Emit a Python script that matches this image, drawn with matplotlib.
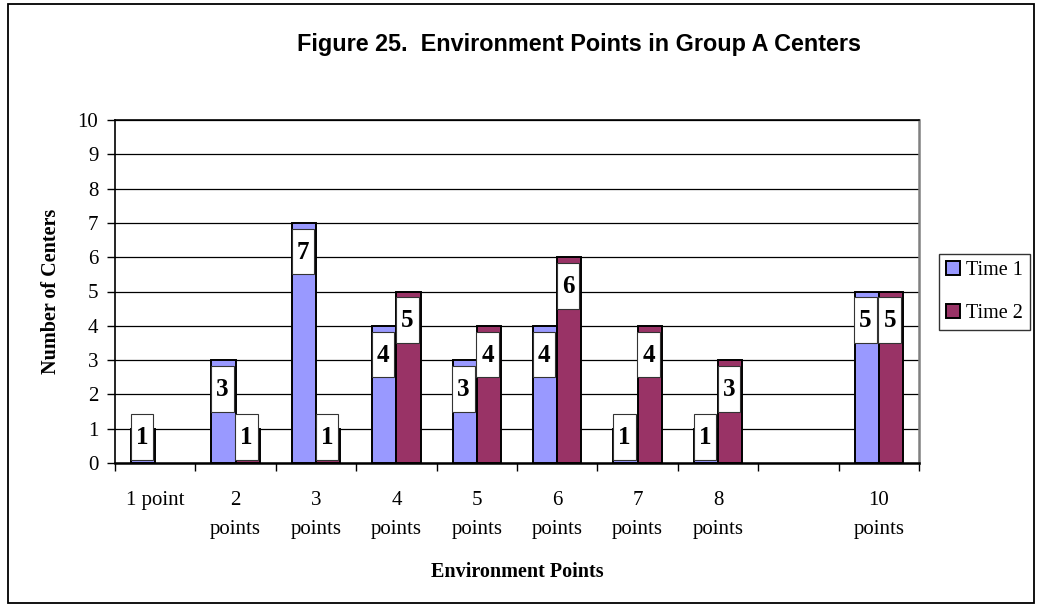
import numpy as np
import matplotlib
matplotlib.use("Agg")
import matplotlib.pyplot as plt
from matplotlib.patches import Rectangle

# number of centers per environment-point score, two observation rounds
categories = ["1 point", "2\npoints", "3\npoints", "4\npoints", "5\npoints",
              "6\npoints", "7\npoints", "8\npoints", "", "10\npoints"]
time1 = [1, 3, 7, 4, 3, 4, 1, 1, None, 5]
time2 = [None, 1, 1, 5, 4, 6, 4, 3, None, 5]
series_names = ["Time 1", "Time 2"]
series_colors = ["#9999FF", "#993366"]

serif = "Liberation Serif"
sans = "Liberation Sans"

fig = plt.figure(figsize=(10.37, 6.06), dpi=100)
ax = fig.add_axes([115 / 1037, 1 - 463 / 606, (919 - 115) / 1037, (463 - 120) / 606])

# outer chart border
fig.patches.append(Rectangle((8 / 1037, 3 / 606), 1026 / 1037, 599 / 606,
                             transform=fig.transFigure, fill=False,
                             edgecolor="black", linewidth=1.3))

width = 0.3
x = np.arange(len(categories))
handles = []
for k, (vals, name, color) in enumerate(zip([time1, time2], series_names, series_colors)):
    offset = (k - 0.5) * width
    idx = [i for i, v in enumerate(vals) if v is not None]
    heights = [vals[i] for i in idx]
    bars = ax.bar(x[idx] + offset, heights, width=width, color=color,
                  edgecolor="black", linewidth=1.4, zorder=3, label=name)
    handles.append(bars)
    # white value boxes sitting just under the top of each bar
    for i, v in zip(idx, heights):
        bottom = max(v - 1.5, 0.09)
        top = bottom + 1.33
        left = x[i] + offset - width / 2 - 0.004
        bw = 0.28
        ax.add_patch(Rectangle((left, bottom), bw, top - bottom,
                               facecolor="white", edgecolor="#333333",
                               linewidth=0.8, zorder=4))
        ax.text(left + bw / 2, (bottom + top) / 2 - 0.02, str(v), ha="center", va="center",
                fontsize=18, fontweight="bold", family=serif, zorder=5)

ax.set_xlim(-0.5, len(categories) - 0.5)
ax.set_ylim(0, 10)
ax.set_yticks(range(0, 11))
ax.yaxis.grid(True, color="black", linewidth=0.9, zorder=0)
ax.set_axisbelow(True)

# category boundaries carry the tick marks, labels sit at the centers
ax.set_xticks(np.arange(-0.5, len(categories), 1.0))
ax.set_xticklabels([])
ax.tick_params(axis="x", which="major", direction="out", length=6, width=1, color="black")
ax.set_xticks(x, minor=True)
ax.set_xticklabels(categories, minor=True, family=serif, fontsize=15, linespacing=1.75, va="top")
ax.tick_params(axis="x", which="minor", length=0, pad=20)
ax.tick_params(axis="y", direction="out", length=6, width=1, pad=6, labelsize=15)
for lbl in ax.get_yticklabels():
    lbl.set_family(serif)

for side in ["left", "bottom", "top"]:
    ax.spines[side].set_color("black")
    ax.spines[side].set_linewidth(1.2)
ax.spines["bottom"].set_linewidth(1.8)
ax.spines["right"].set_color("#808080")
ax.spines["right"].set_linewidth(1.8)

ax.set_ylabel("Number of Centers", family=serif, fontsize=14.5, fontweight="bold", labelpad=12)
fig.text(517 / 1037, 1 - 572 / 606, "Environment Points", family=serif, fontsize=14.5,
         fontweight="bold", ha="center", va="center")
fig.text(579 / 1037, 1 - 45 / 606, "Figure 25.  Environment Points in Group A Centers",
         family=sans, fontsize=16.8, fontweight="bold", ha="center", va="center")

leg = fig.legend(handles=handles, labels=series_names, loc="upper left",
                 bbox_to_anchor=(939 / 1037, 1 - 254 / 606), bbox_transform=fig.transFigure,
                 borderaxespad=0, frameon=True, fancybox=False, edgecolor="black",
                 prop={"family": serif, "size": 14.5}, handlelength=0.7, handleheight=0.7,
                 handletextpad=0.3, labelspacing=1.2, borderpad=0.35)
leg.get_frame().set_linewidth(1.0)

fig.savefig("out.png", dpi=100, facecolor="white")
